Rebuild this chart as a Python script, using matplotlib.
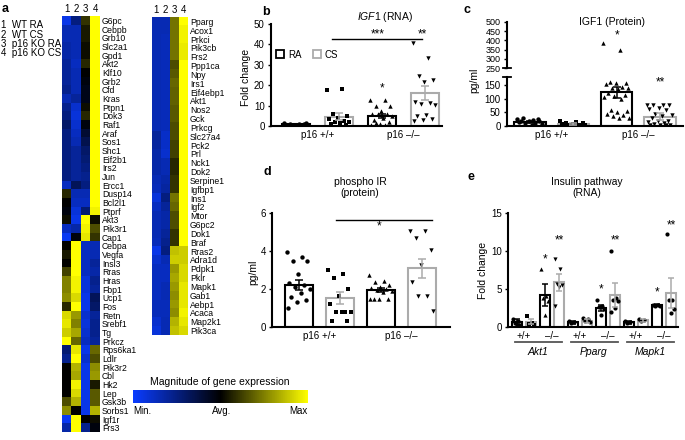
import numpy as np
import matplotlib
matplotlib.use("Agg")
import matplotlib.pyplot as plt
import matplotlib.transforms as mtrans
from matplotlib.colors import LinearSegmentedColormap, Normalize
from matplotlib.colorbar import ColorbarBase
from matplotlib.patches import Patch

plt.rcParams['font.family'] = ['Liberation Sans', 'DejaVu Sans']
plt.rcParams['mathtext.fontset'] = 'custom'
plt.rcParams['mathtext.it'] = 'Liberation Sans:italic'
plt.rcParams['mathtext.rm'] = 'Liberation Sans'

W, H = 685, 440

# caixa em pixels (x0, y0 topo, x1, y1 base) -> coordenadas da figura
def caixa(x0, y0, x1, y1):
    return [x0 / W, 1 - y1 / H, (x1 - x0) / W, (y1 - y0) / H]

# ---------------- dados do heatmap (a) ----------------
grupos = ["1  WT RA", "2  WT CS", "3  p16 KO RA", "4  p16 KO CS"]

genes_esq = ["G6pc", "Cebpb", "Grb10", "Slc2a1", "Gpd1", "Akt2", "Klf10", "Grb2", "Cfd", "Kras",
             "Ptpn1", "Dok3", "Raf1", "Araf", "Sos1", "Shc1", "Eif2b1", "Irs2", "Jun", "Ercc1",
             "Dusp14", "Bcl2l1", "Ptprf", "Akt3", "Pik3r1", "Cap1", "Cebpa", "Vegfa", "Insl3", "Rras",
             "Hras", "Fbp1", "Ucp1", "Fos", "Retn", "Srebf1", "Tg", "Prkcz", "Rps6ka1", "Ldlr",
             "Pik3r2", "Cbl", "Hk2", "Lep", "Gsk3b", "Sorbs1", "Igf1r", "Frs3"]
heat_esq = [
    [-0.9, -0.5, 0.2, 1], [-0.7, -0.7, 0.1, 1], [-0.7, -0.7, 0.1, 1], [-0.65, -0.7, 0.05, 1],
    [-0.65, -0.7, 0.05, 1], [-0.6, -0.75, 0.15, 1], [-0.6, -0.7, 0.0, 1], [-0.6, -0.7, -0.05, 1],
    [-0.55, -0.7, -0.1, 1], [-0.7, -0.6, -0.1, 1], [-0.55, -0.8, 0.05, 1], [-0.5, -0.85, 0.15, 1],
    [-0.4, -0.8, -0.05, 1], [-0.5, -0.75, -0.2, 1], [-0.5, -0.7, -0.3, 1], [-0.5, -0.6, -0.4, 1],
    [-0.5, -0.6, -0.45, 1], [-0.5, -0.6, -0.5, 1], [-0.5, -0.6, -0.55, 1], [-0.75, -0.35, -0.5, 1],
    [0.15, -0.7, -0.7, 1], [0.0, -0.75, -0.75, 1], [-0.05, -0.85, -0.45, 0.95], [0.05, -0.9, 1, 0.05],
    [-0.75, -0.65, 0.95, 0.3], [-0.95, -0.05, 0.9, 0.2], [0.0, 1, -0.75, -0.7], [0.1, 1, -0.75, -0.7],
    [0.0, 1, -0.75, -0.6], [0.25, 1, -0.75, -0.65], [0.5, 0.95, -0.85, -0.55], [0.5, 0.95, -0.85, -0.6],
    [0.55, 0.85, -0.9, -0.35], [0.15, 1, -0.9, -0.4], [0.85, 0.6, -0.8, -0.6], [0.9, 0.5, -0.85, -0.55],
    [0.8, 0.65, -0.8, -0.55], [1, 0.4, -0.75, -0.6], [-0.45, 0.9, -0.9, 0.4], [-0.55, 1, -0.8, 0.3],
    [0.0, 0.7, -0.9, 0.55], [0.0, 0.65, -0.9, 0.6], [0.0, 0.95, -0.9, 0.1], [0.0, 0.85, -0.9, 0.35],
    [0.3, 0.7, -0.9, 0.35], [0.55, 0.0, -0.9, 0.7], [-0.95, 1, 0.0, 0.05], [-0.65, 1, -0.55, -0.05]]

genes_dir = ["Pparg", "Acox1", "Prkci", "Pik3cb", "Frs2", "Ppp1ca", "Npy", "Irs1", "Eif4ebp1", "Akt1",
             "Nos2", "Gck", "Prkcg", "Slc27a4", "Pck2", "Prl", "Nck1", "Dok2", "Serpine1", "Igfbp1",
             "Ins1", "Igf2", "Mtor", "G6pc2", "Dok1", "Braf", "Rras2", "Adra1d", "Pdpk1", "Pklr",
             "Mapk1", "Gab1", "Aebp1", "Acaca", "Map2k1", "Pik3ca"]
heat_dir = [
    [-0.7, -0.7, 0.45, 1], [-0.7, -0.7, 0.45, 0.95], [-0.7, -0.72, 0.45, 0.95], [-0.7, -0.72, 0.45, 0.92],
    [-0.7, -0.72, 0.45, 0.92], [-0.7, -0.72, 0.3, 1], [-0.7, -0.72, 0.35, 1], [-0.7, -0.72, 0.4, 1],
    [-0.7, -0.72, 0.38, 1], [-0.7, -0.72, 0.38, 1], [-0.7, -0.72, 0.35, 1], [-0.7, -0.72, 0.35, 1],
    [-0.7, -0.72, 0.3, 1], [-0.6, -0.78, 0.3, 1], [-0.62, -0.78, 0.25, 1], [-0.65, -0.8, 0.25, 1],
    [-0.65, -0.7, 0.15, 1], [-0.65, -0.7, 0.15, 1], [-0.7, -0.65, 0.2, 1], [-0.72, -0.62, 0.2, 1],
    [-0.85, -0.5, 0.45, 1], [-0.75, -0.6, 0.4, 1], [-0.7, -0.65, 0.3, 1], [-0.7, -0.65, 0.3, 1],
    [-0.7, -0.6, 0.2, 1], [-0.72, -0.55, 0.2, 1], [-0.9, -0.5, 0.75, 0.8], [-0.8, -0.7, 0.8, 0.8],
    [-0.75, -0.75, 0.6, 0.85], [-0.75, -0.75, 0.65, 0.85], [-0.75, -0.7, 0.6, 0.9], [-0.75, -0.7, 0.55, 0.9],
    [-0.72, -0.72, 0.6, 0.9], [-0.72, -0.72, 0.55, 0.95], [-0.8, -0.7, 0.7, 0.9], [-0.85, -0.7, 0.75, 0.85]]

# ---------------- dados dos graficos de barras ----------------
rotulos_x = ["p16 +/+", "p16 \u2013/\u2013"]
legenda = ["RA", "CS"]

# b: IGF1 (RNA), fold change
b_alturas = [0.8, 4.6, 4.9, 16.0]
b_erros = [0.3, 1.8, 1.0, 3.5]
b_pontos = [[1.5, 1.2, 1.0, 0.8, 0.5, 0.3, 0.2, 0.6, 1.3],
            [17.5, 18, 6.0, 5.0, 4.0, 3.5, 2.5, 2.0, 2.0, 1.5, 1.0, 0.5],
            [12.5, 12.5, 10, 10, 7.5, 6, 6, 6, 5, 4, 3, 2, 1, 0.5, 0.5, 1.5],
            [40.5, 33.5, 24.5, 22.5, 21.5, 12, 11.5, 11, 10.5, 5.5, 5, 3.5, 3, 2.5]]

# c: IGF1 (Protein), pg/ml
c_alturas = [15, 8, 123, 34]
c_erros = [4, 3, 19, 12]
c_pontos = [[25, 22, 28, 20, 18, 15, 12, 10, 8, 5, 20, 24],
            [18, 15, 12, 10, 8, 6, 5, 3, 2, 2],
            [387, 348, 160, 158, 157, 155, 142, 140, 138, 135, 120, 115, 110, 105, 100,
             60, 55, 50, 45, 40, 35, 30, 28],
            [78, 78, 77, 75, 65, 62, 60, 45, 40, 38, 30, 20, 18, 15, 12, 8, 5, 3, 3, 5]]

# d: phospho IR (protein), pg/ml
d_alturas = [2.22, 1.52, 1.93, 3.1]
d_erros = [0.28, 0.3, 0.1, 0.5]
d_pontos = [[3.95, 3.7, 3.5, 3.45, 2.8, 2.3, 2.2, 2.1, 2.0, 1.8, 1.6, 1.4, 1.3, 1.0],
            [3.0, 2.8, 2.6, 2.0, 1.65, 1.2, 0.8, 0.8, 0.8, 0.8, 0.3, 0.3],
            [2.75, 2.4, 2.35, 2.2, 2.1, 2.05, 2.0, 1.95, 1.9, 1.85, 1.5, 1.5, 1.5, 1.5],
            [5.07, 5.07, 4.7, 4.05, 3.25, 2.35, 1.65, 1.65, 0.85]]

# e: Insulin pathway (RNA), fold change
e_genes = ["Akt1", "Pparg", "Mapk1"]
e_alturas = [0.7, 0.7, 4.2, 5.9, 0.6, 0.8, 2.5, 4.2, 0.6, 0.9, 2.9, 4.5]
e_erros = [0.3, 0.3, 1.4, 1.1, 0.2, 0.3, 0.4, 1.6, 0.2, 0.2, 0.1, 2.0]
e_pontos = [[1.0, 0.8, 0.5, 0.3, 0.2], [1.5, 0.5, 0.4, 0.3],
            [7.6, 4.1, 3.8, 3.4, 1.6], [9.0, 7.6, 5.7, 5.5, 5.3, 2.8],
            [0.8, 0.6, 0.5], [1.2, 1.0, 0.8, 0.6],
            [3.6, 2.8, 2.6, 2.4, 1.6], [10.0, 3.8, 3.6, 3.4, 2.5, 2.0],
            [0.8, 0.6, 0.5], [1.1, 0.9, 0.8],
            [2.9, 2.9, 2.8, 2.8], [12.3, 3.6, 3.5, 2.4, 1.8]]
e_marcadores = ['o', 's', '^', 'v', 'o', 'o', 'o', 'o', 'o', 'o', 'o', 'o']
e_estrelas = {3: ("*", 9.0), 4: ("**", 11.5), 7: ("*", 5.1), 8: ("**", 11.5),
              11: ("*", 4.7), 12: ("**", 13.5)}

PRETO = 'black'
CINZA = '#ababab'
cores4 = [PRETO, CINZA, PRETO, CINZA]
marc4 = ['o', 's', '^', 'v']

fig = plt.figure(figsize=(W / 100, H / 100), dpi=100)

# ---------------- painel a ----------------
cmap = LinearSegmentedColormap.from_list("azul_amarelo", ["#0a3cff", "#000000", "#ffff00"])

def heatmap(ax, valores, genes):
    ax.imshow(np.array(valores), cmap=cmap, vmin=-1, vmax=1, aspect='auto', interpolation='nearest')
    ax.xaxis.tick_top()
    ax.set_xticks(range(4))
    ax.set_xticklabels(["1", "2", "3", "4"], fontsize=7)
    ax.yaxis.tick_right()
    ax.set_yticks(range(len(genes)))
    ax.set_yticklabels(genes, fontsize=6.2)
    ax.tick_params(length=0, pad=1.5)
    for s in ax.spines.values():
        s.set_visible(False)

ax_a1 = fig.add_axes(caixa(62, 16, 100, 432))
heatmap(ax_a1, heat_esq, genes_esq)
ax_a2 = fig.add_axes(caixa(152, 17, 188, 335))
heatmap(ax_a2, heat_dir, genes_dir)

for i, g in enumerate(grupos):
    fig.text(1 / W, 1 - (25 + 9.5 * i) / H, g, fontsize=7, va='center')

cax = fig.add_axes(caixa(133, 390, 308, 403))
cb = ColorbarBase(cax, cmap=cmap, norm=Normalize(-1, 1), orientation='horizontal', ticks=[])
cb.outline.set_visible(False)
fig.text(220 / W, 1 - 382 / H, "Magnitude of gene expression", fontsize=7.5, ha='center', va='center')
for xp, txt, ha in [(133, "Min.", 'left'), (222, "Avg.", 'center'), (308, "Max", 'right')]:
    fig.text(xp / W, 1 - 411 / H, txt, fontsize=7, ha=ha, va='center')

# ---------------- funcoes dos paineis de barras ----------------
def estilo(ax, lw=1.5):
    for s in ['top', 'right']:
        ax.spines[s].set_visible(False)
    for s in ['left', 'bottom']:
        ax.spines[s].set_linewidth(lw)
    ax.tick_params(axis='y', length=2.5, width=1, labelsize=7, pad=2)
    ax.tick_params(axis='x', length=0, labelsize=7, pad=3)

def barras(ax, xs, alturas, erros, pontos, marcadores, cores, largura, ms=10, cap=3):
    for x, h, e, p, m, c in zip(xs, alturas, erros, pontos, marcadores, cores):
        ax.bar(x, h, width=largura, facecolor='white', edgecolor=c, linewidth=1.5, zorder=2)
        p = np.array(p)
        off = ((np.arange(len(p)) * 0.618) % 1 - 0.5) * largura * 0.85
        ax.scatter(x + off, p, marker=m, s=ms, color='black', linewidths=0, zorder=3)
        ax.errorbar(x, h, yerr=e, color=c, capsize=cap, elinewidth=1.1, capthick=1.1, zorder=4)

xs4 = np.arange(1, 5)

# ---------------- painel b ----------------
ax_b = fig.add_axes(caixa(271, 24, 442, 126))
barras(ax_b, xs4, b_alturas, b_erros, b_pontos, marc4, cores4, 0.65)
ax_b.set_xlim(0.42, 4.4)
ax_b.set_ylim(0, 50)
ax_b.set_yticks(range(0, 51, 10))
ax_b.set_xticks([1.5, 3.5])
ax_b.set_xticklabels(rotulos_x)
estilo(ax_b)
ax_b.plot([1.84, 3.93], [42.6, 42.6], color='black', lw=1)
ax_b.text(2.9, 42.0, "***", fontsize=8.5, ha='center', va='bottom')
ax_b.text(3.95, 42.0, "**", fontsize=8.5, ha='center', va='bottom')
ax_b.text(3, 15.5, "*", fontsize=8.5, ha='center', va='bottom')
ax_b.text(3.07, 53.5, r"$\it{IGF1}$ (RNA)", fontsize=7.5, ha='center', va='center')
ax_b.legend(handles=[Patch(facecolor='white', edgecolor=PRETO, lw=1.3, label=legenda[0]),
                     Patch(facecolor='white', edgecolor=CINZA, lw=1.3, label=legenda[1])],
            loc='center left', bbox_to_anchor=(0.03, 0.70), ncol=2, frameon=False, fontsize=7,
            handlelength=0.8, handleheight=0.9, handletextpad=0.4, columnspacing=1.2,
            borderpad=0, borderaxespad=0)
fig.text(246 / W, 1 - 77 / H, "Fold change", fontsize=7.5, rotation=90, ha='center', va='center')

# ---------------- painel c (eixo quebrado) ----------------
ax_c2 = fig.add_axes(caixa(507, 21.7, 683, 68.3))
ax_c1 = fig.add_axes(caixa(507, 77.3, 683, 126))
for ax in (ax_c1, ax_c2):
    barras(ax, xs4, c_alturas, c_erros, c_pontos, marc4, cores4, 0.72)
    ax.set_xlim(0.47, 4.53)
    estilo(ax)
ax_c1.set_ylim(0, 178)
ax_c1.set_yticks([0, 50, 100, 150])
ax_c1.set_xticks([1.5, 3.5])
ax_c1.set_xticklabels(rotulos_x)
ax_c2.set_ylim(250, 500)
ax_c2.set_yticks(range(250, 501, 50))
ax_c2.tick_params(axis='y', labelsize=6.5)
ax_c2.spines['bottom'].set_visible(False)
ax_c2.set_xticks([])
ax_c2.plot([-0.025, 0.025], [0, 0], transform=ax_c2.transAxes, color='black', lw=1.3, clip_on=False)
ax_c1.plot([-0.025, 0.025], [1, 1], transform=ax_c1.transAxes, color='black', lw=1.3, clip_on=False)
ax_c2.text(3, 428, "*", fontsize=8.5, ha='center', va='center')
ax_c1.text(4, 138, "**", fontsize=8.5, ha='center', va='bottom')
ax_c2.text(2.9, 500, "IGF1 (Protein)", fontsize=7.5, ha='center', va='center')
fig.text(474 / W, 1 - 80 / H, "pg/ml", fontsize=7.5, rotation=90, ha='center', va='center')

# ---------------- painel d ----------------
ax_d = fig.add_axes(caixa(272, 213, 450, 327))
barras(ax_d, xs4, d_alturas, d_erros, d_pontos, marc4, cores4, 0.68)
ax_d.set_xlim(0.34, 4.68)
ax_d.set_ylim(0, 6)
ax_d.set_yticks([0, 2, 4, 6])
ax_d.set_xticks([1.5, 3.5])
ax_d.set_xticklabels(rotulos_x)
estilo(ax_d)
ax_d.plot([1.9, 4.24], [5.65, 5.65], color='black', lw=1)
ax_d.text(2.95, 5.0, "*", fontsize=8.5, ha='center', va='bottom')
fig.text(360 / W, 1 - 187.5 / H, "phospho IR\n(protein)", fontsize=7.5, ha='center', va='center',
         linespacing=1.2)
fig.text(253 / W, 1 - 272 / H, "pg/ml", fontsize=7.5, rotation=90, ha='center', va='center')

# ---------------- painel e ----------------
ax_e = fig.add_axes(caixa(508, 213, 678, 327))
xs12 = np.arange(1, 13)
barras(ax_e, xs12, e_alturas, e_erros, e_pontos, e_marcadores, cores4 * 3, 0.72, ms=9, cap=2)
ax_e.set_xlim(0.36, 12.5)
ax_e.set_ylim(0, 15)
ax_e.set_yticks([0, 5, 10, 15])
ax_e.set_xticks([])
estilo(ax_e)
for k, (txt, yv) in e_estrelas.items():
    ax_e.text(k, yv - 0.9, txt, fontsize=8.5, ha='center', va='bottom')
tr = mtrans.blended_transform_factory(ax_e.transData, ax_e.transAxes)
for g, nome in enumerate(e_genes):
    base = 4 * g
    ax_e.text(base + 1.5, -0.08, "+/+", transform=tr, fontsize=7, ha='center', va='center')
    ax_e.text(base + 3.5, -0.08, "\u2013/\u2013", transform=tr, fontsize=7, ha='center', va='center')
    ax_e.plot([base + 0.86, base + 4.2], [-0.135, -0.135], transform=tr, color='#555555', lw=1.3,
              clip_on=False)
    ax_e.text(base + 2.5, -0.22, nome, transform=tr, fontsize=7.5, style='italic', ha='center', va='center')
fig.text(587 / W, 1 - 187.5 / H, "Insulin pathway\n(RNA)", fontsize=7.5, ha='center', va='center',
         linespacing=1.2)
fig.text(483 / W, 1 - 270 / H, "Fold change", fontsize=7.5, rotation=90, ha='center', va='center')

# letras dos paineis
for xp, yp, l in [(2, 9, "a"), (262, 12, "b"), (463, 10, "c"), (263, 172, "d"), (468, 177, "e")]:
    fig.text(xp / W, 1 - yp / H, l, fontsize=9, fontweight='bold', va='center')

fig.savefig("out.png", dpi=100)
